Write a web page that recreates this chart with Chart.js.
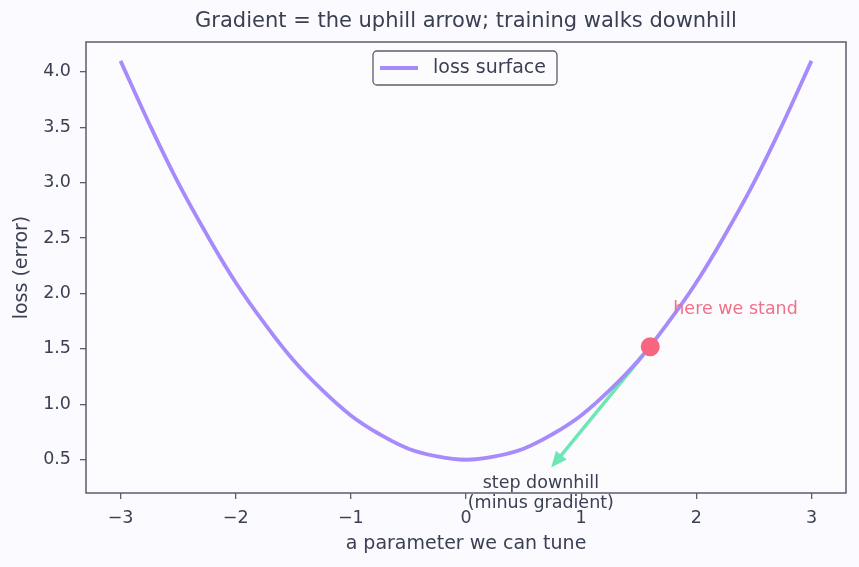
<!DOCTYPE html>
<html>
<head>
<meta charset="utf-8">
<script src="https://cdn.jsdelivr.net/npm/chart.js@4.4.1/dist/chart.umd.min.js"></script>
<style>
  html, body { margin: 0; padding: 0; background: #fafaff; }
  #wrap { width: 859px; height: 567px; }
</style>
</head>
<body>
<div id="wrap"><canvas id="c" width="859" height="567"></canvas></div>
<script>
// loss surface
const xs = [-3, -2.75, -2.5, -2.25, -2, -1.75, -1.5, -1.25, -1, -0.75, -0.5, -0.25, 0,
            0.25, 0.5, 0.75, 1, 1.25, 1.5, 1.75, 2, 2.25, 2.5, 2.75, 3];
const loss = [4.10, 3.53, 3.00, 2.53, 2.10, 1.73, 1.40, 1.13, 0.90, 0.73, 0.60, 0.53, 0.50,
              0.53, 0.60, 0.73, 0.90, 1.13, 1.40, 1.73, 2.10, 2.53, 3.00, 3.53, 4.10];

// where we stand, and where one step goes
const standX = 1.6, standY = 1.52;
const stepX = 0.74, stepY = 0.43;

const xTicks = [-3, -2, -1, 0, 1, 2, 3];
const yTicks = [0.5, 1.0, 1.5, 2.0, 2.5, 3.0, 3.5, 4.0];

const textColor = '#3a3f51';
const frameColor = '#5c5c6c';
const font = 'DejaVu Sans';

// background, frame, arrow and texts
const extras = {
    id: 'extras',
    beforeDraw(chart) {
        const ctx = chart.ctx;
        ctx.save();
        ctx.fillStyle = '#fafaff';
        ctx.fillRect(0, 0, chart.width, chart.height);
        ctx.fillStyle = '#fcfcff';
        const a = chart.chartArea;
        ctx.fillRect(a.left, a.top, a.right - a.left, a.bottom - a.top);
        ctx.restore();
    },
    beforeDatasetsDraw(chart) {
        const ctx = chart.ctx;
        const sx = chart.scales.x, sy = chart.scales.y;
        const x0 = sx.getPixelForValue(standX), y0 = sy.getPixelForValue(standY);
        const x1 = sx.getPixelForValue(stepX), y1 = sy.getPixelForValue(stepY);
        const ang = Math.atan2(y1 - y0, x1 - x0);
        const c = Math.cos(ang), s = Math.sin(ang);
        const hl = 16, hw = 7;
        ctx.save();
        ctx.strokeStyle = '#6ee7b7';
        ctx.fillStyle = '#6ee7b7';
        ctx.lineWidth = 3.5;
        ctx.beginPath();
        ctx.moveTo(x0, y0);
        ctx.lineTo(x1 - c * hl * 0.8, y1 - s * hl * 0.8);
        ctx.stroke();
        ctx.beginPath();
        ctx.moveTo(x1, y1);
        ctx.lineTo(x1 - c * hl - s * hw, y1 - s * hl + c * hw);
        ctx.lineTo(x1 - c * hl + s * hw, y1 - s * hl - c * hw);
        ctx.closePath();
        ctx.fill();
        ctx.restore();
    },
    afterDraw(chart) {
        const ctx = chart.ctx;
        const a = chart.chartArea;
        const sx = chart.scales.x, sy = chart.scales.y;
        ctx.save();
        // frame
        ctx.strokeStyle = frameColor;
        ctx.lineWidth = 1.5;
        ctx.strokeRect(a.left, a.top, a.right - a.left, a.bottom - a.top);

        // title
        ctx.fillStyle = textColor;
        ctx.font = '21px "' + font + '"';
        ctx.textAlign = 'center';
        ctx.textBaseline = 'middle';
        ctx.fillText('Gradient = the uphill arrow; training walks downhill', (a.left + a.right) / 2, 22);

        // annotations
        ctx.font = '17.5px "' + font + '"';
        ctx.fillStyle = '#f07089';
        ctx.textAlign = 'left';
        ctx.fillText('here we stand', sx.getPixelForValue(1.8), sy.getPixelForValue(1.86));
        ctx.fillStyle = textColor;
        ctx.textAlign = 'center';
        const tx = sx.getPixelForValue(0.65), ty = sy.getPixelForValue(0.29);
        ctx.fillText('step downhill', tx, ty);
        ctx.fillText('(minus gradient)', tx, ty + 20);

        // legend
        const lx = 373, ly = 51, lw = 184, lh = 34;
        ctx.fillStyle = 'rgba(252,252,255,0.9)';
        ctx.strokeStyle = frameColor;
        ctx.lineWidth = 1.3;
        ctx.beginPath();
        ctx.roundRect(lx, ly, lw, lh, 4);
        ctx.fill();
        ctx.stroke();
        ctx.strokeStyle = '#a78bfa';
        ctx.lineWidth = 3.8;
        ctx.beginPath();
        ctx.moveTo(lx + 7, ly + 17);
        ctx.lineTo(lx + 45, ly + 17);
        ctx.stroke();
        ctx.fillStyle = textColor;
        ctx.font = '19px "' + font + '"';
        ctx.textAlign = 'left';
        ctx.fillText('loss surface', lx + 60, ly + 17);
        ctx.restore();
    }
};

const ctx = document.getElementById('c').getContext('2d');
new Chart(ctx, {
    type: 'line',
    data: {
        datasets: [
            {
                label: 'here we stand',
                type: 'scatter',
                data: [{ x: standX, y: standY }],
                pointRadius: 9.5,
                pointBackgroundColor: '#f7667e',
                pointBorderWidth: 0,
                order: 0
            },
            {
                label: 'loss surface',
                data: xs.map((x, i) => ({ x: x, y: loss[i] })),
                borderColor: '#a78bfa',
                borderWidth: 3.8,
                pointRadius: 0,
                tension: 0.4,
                fill: false,
                order: 1
            }
        ]
    },
    options: {
        responsive: false,
        animation: false,
        devicePixelRatio: 1,
        layout: { padding: { top: 42, right: 13, left: 0, bottom: 0 } },
        plugins: {
            legend: { display: false },
            tooltip: { enabled: false }
        },
        scales: {
            x: {
                type: 'linear',
                min: -3.3,
                max: 3.3,
                afterBuildTicks: s => { s.ticks = xTicks.map(v => ({ value: v })); },
                afterFit: s => { s.height = 74; },
                ticks: {
                    color: textColor,
                    font: { family: font, size: 17.5 },
                    padding: 9,
                    maxRotation: 0,
                    callback: v => (v < 0 ? '\u2212' + Math.abs(v) : String(v))
                },
                grid: { drawOnChartArea: false, drawTicks: true, tickLength: 6, color: frameColor, lineWidth: 1.3 },
                border: { display: false },
                title: {
                    display: true,
                    text: 'a parameter we can tune',
                    color: textColor,
                    font: { family: font, size: 19 },
                    padding: { top: 0, bottom: 12 }
                }
            },
            y: {
                type: 'linear',
                min: 0.2,
                max: 4.27,
                afterBuildTicks: s => { s.ticks = yTicks.map(v => ({ value: v })); },
                afterFit: s => { s.width = 86; },
                ticks: {
                    color: textColor,
                    font: { family: font, size: 17.5 },
                    padding: 9,
                    callback: v => v.toFixed(1)
                },
                grid: { drawOnChartArea: false, drawTicks: true, tickLength: 6, color: frameColor, lineWidth: 1.3 },
                border: { display: false },
                title: {
                    display: true,
                    text: 'loss (error)',
                    color: textColor,
                    font: { family: font, size: 19 },
                    padding: { top: 11, bottom: 0 }
                }
            }
        }
    },
    plugins: [extras]
});
</script>
</body>
</html>
